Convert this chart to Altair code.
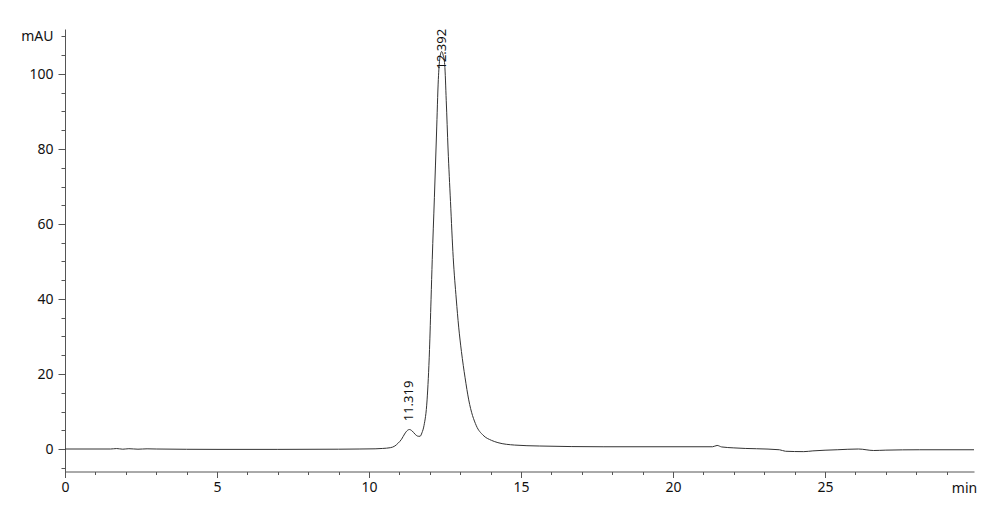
import altair as alt
import pandas as pd

# Chromatogram trace (retention time in min, absorbance in mAU)
time_min = [0.0, 1.5, 1.7, 1.9, 2.1, 2.4, 2.7, 3.0, 5.0, 7.0, 9.0, 9.7, 10.2, 10.45,
            10.7, 10.85, 10.95, 11.07, 11.17, 11.27, 11.33, 11.42, 11.52, 11.62, 11.68,
            11.74, 11.81, 11.91, 11.99, 12.04, 12.08, 12.15, 12.22, 12.28, 12.33, 12.39,
            12.44, 12.49, 12.54, 12.60, 12.68, 12.77, 12.87, 12.95, 13.04, 13.16, 13.28,
            13.53, 13.75, 14.03, 14.24, 14.79, 15.6, 17.7, 21.3, 21.45, 21.6, 22.0, 23.5,
            23.7, 24.3, 24.6, 25.4, 26.1, 26.6, 27.0, 28.1, 29.9]
mau = [0.0, 0.0, 0.12, -0.05, 0.08, -0.05, 0.05, 0.0, -0.1, -0.1, -0.05, 0.0, 0.05, 0.15,
       0.35, 0.8, 1.5, 2.6, 4.0, 5.0, 5.2, 4.8, 3.9, 3.4, 3.4,
       4.3, 6.3, 13.1, 26.5, 39.8, 50.5, 67.0, 84.0, 98.5, 104.2, 106.0,
       105.0, 102.5, 93.0, 80.0, 66.0, 51.0, 40.0, 32.5, 26.0, 19.0, 13.1,
       6.2, 3.7, 2.3, 1.7, 1.05, 0.8, 0.6, 0.6, 0.95, 0.55, 0.3, -0.2,
       -0.6, -0.7, -0.5, -0.2, 0.0, -0.4, -0.3, -0.2, -0.2]

# Peak annotations
peak_rt = [11.319, 12.392]
peak_label = ["11.319", "12.392"]
peak_height = [5.2, 106.0]

# Axis ticks
x_major = [0, 5, 10, 15, 20, 25]
x_minor = list(range(0, 30))
y_major = [0, 20, 40, 60, 80, 100]
y_minor = list(range(-5, 115, 5))

FONT = "Noto Sans"
AXIS_GREY = "#555555"
TEXT = "#111111"

trace = pd.DataFrame({"t": time_min, "v": mau})
peaks = pd.DataFrame({"t": peak_rt, "label": peak_label, "h": peak_height})

x_scale = alt.Scale(domain=[0, 29.9], nice=False, zero=False)
y_scale = alt.Scale(domain=[-6, 112], nice=False, zero=False)

x_axis_major = alt.Axis(
    orient="bottom",
    values=x_major,
    tickSize=6,
    labelPadding=3,
    grid=False,
    domainColor=AXIS_GREY,
    tickColor=AXIS_GREY,
    labelColor=TEXT,
    labelFont=FONT,
    labelFontSize=14,
    labelFlush=False,
    labelOverlap=False,
    title="min",
    titleFont=FONT,
    titleFontSize=14,
    titleFontWeight="normal",
    titleColor=TEXT,
    titleX=899,
    titleY=17,
    titleAlign="center",
    titleBaseline="middle",
)

y_axis_major = alt.Axis(
    orient="left",
    values=y_major,
    tickSize=7,
    labelPadding=5,
    grid=False,
    domainColor=AXIS_GREY,
    tickColor=AXIS_GREY,
    labelColor=TEXT,
    labelFont=FONT,
    labelFontSize=14,
    labelFlush=False,
    labelOverlap=False,
    title="mAU",
    titleFont=FONT,
    titleFontSize=14,
    titleFontWeight="normal",
    titleColor=TEXT,
    titleAngle=0,
    titleX=-12,
    titleY=7.5,
    titleAlign="right",
    titleBaseline="middle",
)

x_axis_minor = alt.Axis(
    orient="bottom", values=x_minor, tickSize=3, labels=False, domain=False,
    grid=False, tickColor=AXIS_GREY, title=None,
)
y_axis_minor = alt.Axis(
    orient="left", values=y_minor, tickSize=4, labels=False, domain=False,
    grid=False, tickColor=AXIS_GREY, title=None,
)

line = alt.Chart(trace).mark_line(
    color="#333333", strokeWidth=1, interpolate="monotone"
).encode(
    x=alt.X("t:Q", scale=x_scale, axis=x_axis_major),
    y=alt.Y("v:Q", scale=y_scale, axis=y_axis_major),
)

labels = alt.Chart(peaks).transform_calculate(
    ly="min(datum.h + 2.2, 101.2)"
).mark_text(
    angle=270, align="left", baseline="middle", font=FONT, fontSize=13, color=TEXT
).encode(
    x=alt.X("t:Q", scale=x_scale, axis=x_axis_minor),
    y=alt.Y("ly:Q", scale=y_scale, axis=y_axis_minor),
    text="label:N",
)

chart = alt.layer(line, labels).resolve_axis(
    x="independent", y="independent"
).properties(
    width=909,
    height=442.5,
    autosize=alt.AutoSizeParams(type="none"),
    padding={"left": 57, "top": 21, "right": 15, "bottom": 40},
    background="white",
).configure_view(stroke=None)

chart.save("out.html", embed_options={"renderer": "svg", "actions": False})
